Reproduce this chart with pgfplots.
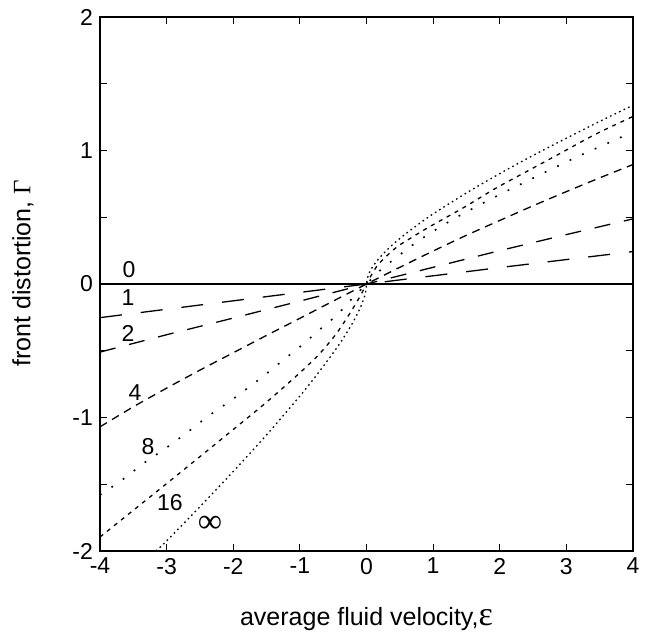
\documentclass[border=0pt]{standalone}
\usepackage{fontspec}
\setmainfont{Liberation Sans}
\newfontfamily\seriffont{Liberation Serif}
\usepackage{pgfplots}
\pgfplotsset{compat=1.18}
\begin{document}
\begin{tikzpicture}
\begin{axis}[
  scale only axis, width=266.5pt, height=267pt,
  xmin=-4, xmax=4, ymin=-2, ymax=2,
  xtick={-4,-3,-2,-1,0,1,2,3,4}, xticklabels={-4,-3,-2,-1,0,1,2,3,4},
  ytick={-2,-1.5,-1,-0.5,0,0.5,1,1.5,2}, yticklabels={-2,,-1,,0,,1,,2},
  tick align=inside, major tick length=3.5pt,
  tick style={black, line width=0.5pt},
  axis line style={line width=0.7pt},
  ticklabel style={font=\fontsize{11.5}{13}\selectfont},
  label style={font=\fontsize{12.5}{14}\selectfont},
  xlabel={average fluid velocity,{\seriffont\fontsize{17}{18}\selectfont ε}},
  ylabel={front distortion, {\seriffont Γ}},
  xlabel style={at={(axis description cs:0.5,-0.1386)}, anchor=base},
  ylabel style={at={(axis description cs:-0.1445,0.52)}, anchor=center},
  clip=true,
]
% 0
\addplot[black, solid, line width=0.65pt, no marks] coordinates {(-4,0) (4,0)};
% 1
\addplot[black, line width=0.65pt, dash pattern=on 11pt off 9.5pt] coordinates {(-4,-0.252) (-2,-0.126) (0,0) (2,0.123) (4,0.243)};
% 2
\addplot[black, line width=0.65pt, dash pattern=on 8pt off 7pt] coordinates {(-4,-0.51) (-3,-0.38) (-2,-0.255) (-1,-0.128) (0,0) (1,0.125) (2,0.25) (3,0.37) (4,0.488)};
% 4
\addplot[black, line width=0.65pt, dash pattern=on 4pt off 3pt, smooth] coordinates {(-4,-1.07) (-3.5,-0.92) (-3,-0.78) (-2.5,-0.645) (-2,-0.515) (-1.5,-0.385) (-1,-0.257) (-0.5,-0.128) (0,0) (0.5,0.125) (1,0.247) (1.5,0.365) (2,0.476) (2.5,0.586) (3,0.692) (3.5,0.795) (4,0.895)};
% 8
\addplot[black, line width=0.8pt, dash pattern=on 0.9pt off 6pt, smooth] coordinates {(-4,-1.58) (-3.675,-1.47) (-3.35,-1.345) (-3,-1.225) (-2.7,-1.115) (-2.375,-0.99) (-2,-0.86) (-1.6,-0.71) (-1.25,-0.57) (-0.95,-0.45) (-0.7,-0.34) (-0.45,-0.235) (-0.2,-0.1) (0,0) (0.2,0.1) (0.45,0.2) (0.8,0.33) (1.3,0.485) (1.9,0.645) (2.55,0.805) (3.15,0.95) (3.6,1.05) (4,1.14)};
% 16
\addplot[black, line width=0.65pt, dash pattern=on 2pt off 2.5pt, smooth] coordinates {(-4,-1.895) (-3.5,-1.695) (-3,-1.495) (-2.5,-1.293) (-2,-1.09) (-1.5,-0.885) (-1,-0.665) (-0.7,-0.52) (-0.45,-0.37) (-0.25,-0.22) (-0.1,-0.095) (0,0) (0.1,0.09) (0.2,0.16) (0.45,0.275) (0.7,0.355) (0.95,0.43) (1.45,0.57) (1.95,0.72) (2.45,0.855) (2.95,0.99) (3.45,1.125) (4,1.255)};
% infinity
\addplot[black, line width=0.65pt, dash pattern=on 0.8pt off 1.7pt, smooth] coordinates {(-3.16,-2.0) (-3,-1.924) (-2.5,-1.668) (-2,-1.404) (-1.5,-1.13) (-1,-0.839) (-0.75,-0.683) (-0.5,-0.516) (-0.35,-0.407) (-0.2,-0.284) (-0.1,-0.185) (-0.06,-0.137) (-0.03,-0.092) (-0.01,-0.05) (0,0) (0.01,0.039) (0.03,0.07) (0.06,0.102) (0.1,0.135) (0.2,0.199) (0.35,0.275) (0.5,0.341) (0.75,0.437) (1,0.525) (1.5,0.682) (2,0.827) (2.5,0.963) (3,1.092) (3.5,1.218) (4,1.339)};
\begin{scope}[font=\fontsize{11.5}{13}\selectfont]
\node at (axis cs:-3.565,0.105) {0};
\node at (axis cs:-3.58,-0.10) {1};
\node at (axis cs:-3.58,-0.37) {2};
\node at (axis cs:-3.475,-0.81) {4};
\node at (axis cs:-3.28,-1.22) {8};
\node at (axis cs:-2.95,-1.64) {16};
\node[font=\seriffont\fontsize{17}{18}\selectfont] at (axis cs:-2.35,-1.80) {∞};
\end{scope}
\end{axis}
\pgfresetboundingbox
\path ([shift={(-50pt,-42pt)}]current axis.south west) rectangle ([shift={(7pt,8.5pt)}]current axis.north east);
\end{tikzpicture}
\end{document}
